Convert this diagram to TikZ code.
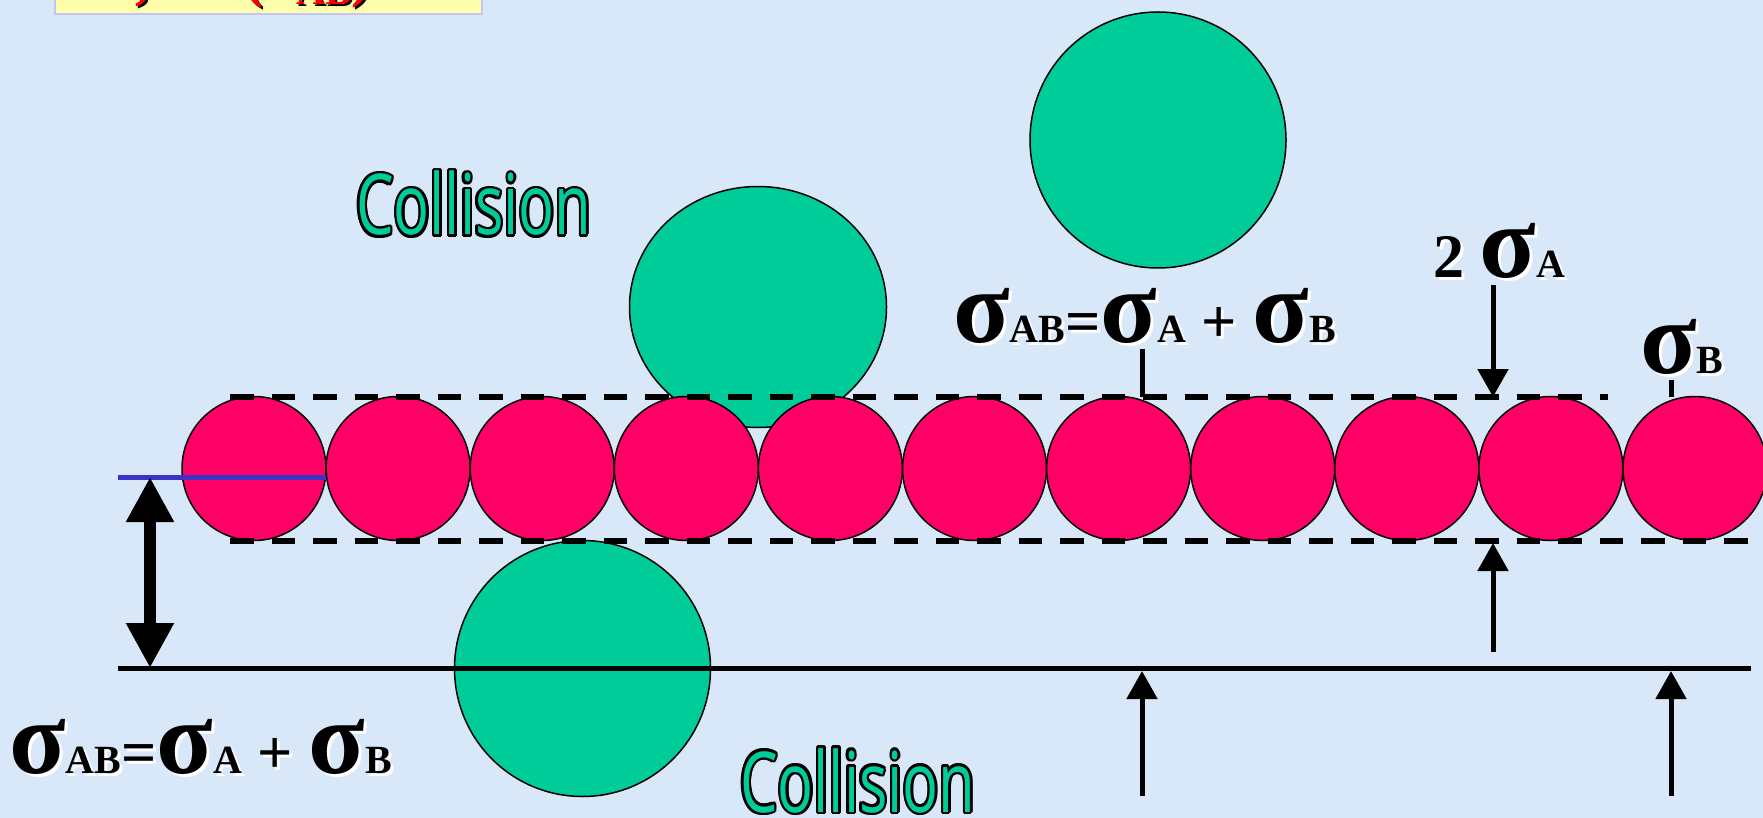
\documentclass[tikz,border=0pt]{standalone}
\usepackage{fontspec}
\usepackage{graphicx}
\setmainfont{Liberation Serif}
\newfontfamily\collfont{Open Sans}
\usetikzlibrary{arrows.meta}
\definecolor{bgblue}{RGB}{216,232,249}
\definecolor{molred}{RGB}{255,0,102}
\definecolor{molgreen}{RGB}{0,204,153}
\definecolor{boxyellow}{RGB}{255,255,170}
\definecolor{boxedge}{RGB}{196,196,250}
\definecolor{lineblue}{RGB}{60,50,200}
\newcommand{\sgbig}{{\fontsize{104}{104}\selectfont σ}}
\newcommand{\sgsub}[1]{{\fontsize{40}{40}\selectfont #1}}
\newcommand{\sgmid}[1]{{\fontsize{62}{62}\selectfont #1}}
\newcommand{\colltext}{\scalebox{0.71}[1]{\collfont\fontsize{84}{84}\selectfont Collision}}
\newcommand{\sigmaeq}{\sgbig\sgsub{AB}\sgmid{=}\sgbig\sgsub{A}\sgmid{~+~}\sgbig\sgsub{B}}
\newcommand{\boxformula}{ζ = π(d\raisebox{-9pt}{\sgsub{AB}})}
\begin{document}
\begin{tikzpicture}[x=1pt,y=-1pt,
  lbl/.style={inner sep=0pt, anchor=base west, font=\bfseries},
  shadowlbl/.style={lbl, text=white},
  coll/.style={inner sep=0pt, anchor=base west},
  redmol/.style={draw=black, line width=1.5pt, fill=molred},
  greenmol/.style={draw=black, line width=1.5pt, fill=molgreen},
  dashline/.style={line width=6pt, dash pattern=on 23.5pt off 18pt},
  thinarrow/.style={line width=5pt, -{Triangle[length=28pt,width=30pt]}},
  bigarrow/.style={line width=12pt, {Triangle[length=45pt,width=45pt]}-{Triangle[length=45pt,width=45pt]}}]
\useasboundingbox (0,0) rectangle (1763,818);
\fill[bgblue] (0,0) rectangle (1763,818);

% partial box at top
\begin{scope}
\clip (55,-20) rectangle (482,14);
\draw[fill=boxyellow, draw=boxedge, line width=2pt] (55,-20) rectangle (482,14);
\node[lbl, text=black, font=\bfseries\fontsize{60}{60}\selectfont] (fs) at (123,-2) {\boxformula};
\node[lbl, text=red, font=\bfseries\fontsize{60}{60}\selectfont] (f) at (121,-4) {\boxformula};
\end{scope}
\draw[draw=boxedge, line width=2pt] (55,-20) rectangle (482,14);

% green molecules
\draw[greenmol] (1158,140) circle[radius=128pt];
\draw[greenmol] (758,307) ellipse[x radius=128.5pt, y radius=120.5pt];
\draw[greenmol] (582.5,668.5) circle[radius=128pt];

% red molecules
\foreach \i in {0,...,10} {
  \draw[redmol] ({254+144.1*\i},468.5) circle[radius=72pt];
}

% dashed lines
\draw[dashline] (230,397) -- (1608,397);
\draw[dashline] (230,541) -- (1748,541);

% blue and solid lines
\draw[lineblue, line width=5pt] (118,477) -- (326,477);
\draw[line width=5pt] (118,668) -- (1751,668);

% arrows
\coordinate (dA) at (150,477);
\coordinate (dB) at (150,668);
\draw[bigarrow] (dA) -- (dB);

\coordinate (a1s) at (1493,285); \coordinate (a1e) at (1493,397);
\draw[thinarrow] (a1s) -- (a1e);
\coordinate (a2s) at (1493,652); \coordinate (a2e) at (1493,543);
\draw[thinarrow] (a2s) -- (a2e);
\coordinate (a3s) at (1142,796); \coordinate (a3e) at (1142,671);
\draw[thinarrow] (a3s) -- (a3e);
\coordinate (a4s) at (1671,796); \coordinate (a4e) at (1671,671);
\draw[thinarrow] (a4s) -- (a4e);

\coordinate (t1s) at (1142,349); \coordinate (t1e) at (1142,397);
\draw[line width=5pt] (t1s) -- (t1e);
\coordinate (t2s) at (1671,380); \coordinate (t2e) at (1671,397);
\draw[line width=5pt] (t2s) -- (t2e);

% sigma labels
\node[shadowlbl] (m1s) at (956,345) {\sigmaeq};
\node[lbl] (m1) at (953,342) {\sigmaeq};
\node[shadowlbl] (m2s) at (12,776) {\sigmaeq};
\node[lbl] (m2) at (9,773) {\sigmaeq};
\node[shadowlbl] (m3s) at (1436,280) {\sgmid{2~}\sgbig\sgsub{A}};
\node[lbl] (m3) at (1433,277) {\sgmid{2~}\sgbig\sgsub{A}};
\node[shadowlbl] (m4s) at (1643,376) {\sgbig\sgsub{B}};
\node[lbl] (m4) at (1640,373) {\sgbig\sgsub{B}};

% Collision words (outlined)
\foreach \a in {0,30,...,330} {
  \node[coll, text=black] (cto\a) at ([shift={(\a:2.5pt)}]356,235) {\colltext};
  \node[coll, text=black] (cbo\a) at ([shift={(\a:2.5pt)}]740,812) {\colltext};
}
\node[coll, text=molgreen] (ct) at (356,235) {\colltext};
\node[coll, text=molgreen] (cb) at (740,812) {\colltext};
\end{tikzpicture}
\end{document}
